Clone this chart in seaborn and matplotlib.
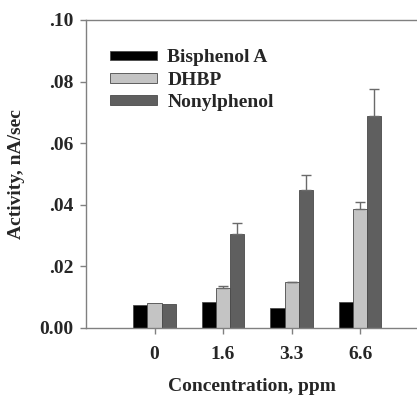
import pandas as pd
import numpy as np
import matplotlib
matplotlib.use("Agg")
import matplotlib.pyplot as plt
import seaborn as sns

## Data
concentrations = ["0", "1.6", "3.3", "6.6"]
compounds = ["Bisphenol A", "DHBP", "Nonylphenol"]
bisphenol = [0.0075, 0.0083, 0.0064, 0.0083]
dhbp = [0.0082, 0.0129, 0.0149, 0.0386]
nonylphenol = [0.0078, 0.0304, 0.0447, 0.0687]
bisphenol_err = [0.0, 0.0, 0.0, 0.0]
dhbp_err = [0.0, 0.0008, 0.0001, 0.0022]
nonylphenol_err = [0.0, 0.0036, 0.0051, 0.0088]

df = pd.DataFrame({
    "Concentration": concentrations * 3,
    "Compound": np.repeat(compounds, 4),
    "Activity": bisphenol + dhbp + nonylphenol,
})
errors = [bisphenol_err, dhbp_err, nonylphenol_err]

## Style
sns.set_style("ticks")
plt.rcParams["font.family"] = ["Liberation Serif", "DejaVu Serif"]
plt.rcParams["font.weight"] = "bold"

colors = ["#000000", "#c4c4c4", "#5f5f5f"]

fig = plt.figure(figsize=(4.17, 3.95), dpi=100)
ax = fig.add_axes([86 / 417, 1 - 328 / 395, 1 - 86 / 417, 308 / 395])

sns.barplot(data=df, x="Concentration", y="Activity", hue="Compound",
            order=concentrations, hue_order=compounds, palette=colors,
            width=0.62, edgecolor="#4a4a4a", linewidth=0.6, saturation=1,
            ax=ax)

## Upward-only error bars with caps
for cont, err in zip(ax.containers, errors):
    for bar, e in zip(cont, err):
        if e <= 0:
            continue
        xc = bar.get_x() + bar.get_width() / 2
        top = bar.get_height()
        ax.errorbar(xc, top, yerr=[[0], [e]], fmt="none", ecolor="#6a6a6a",
                    elinewidth=1.0, capsize=3.3, capthick=1.0, zorder=1)

ax.set_ylim(0, 0.10)
ax.set_xlim(-1.0, 3.83)
yt = [0, 0.02, 0.04, 0.06, 0.08, 0.10]
ax.set_yticks(yt)
ax.set_yticklabels(["0.00", ".02", ".04", ".06", ".08", ".10"])

ax.tick_params(axis="both", labelsize=14, direction="out", color="#808080",
               width=1.0, length=4)
ax.tick_params(axis="x", pad=9)
ax.tick_params(axis="y", pad=5)
for lab in ax.get_xticklabels() + ax.get_yticklabels():
    lab.set_fontweight("bold")

for s in ["left", "bottom", "top"]:
    ax.spines[s].set_color("#808080")
    ax.spines[s].set_linewidth(1.0)
ax.spines["right"].set_visible(False)

ax.set_xlabel("Concentration, ppm", fontsize=14, fontweight="bold", labelpad=11)
ax.set_ylabel("Activity, nA/sec", fontsize=14, fontweight="bold", labelpad=10)

ax.legend(loc="upper left", bbox_to_anchor=(0.0725, 0.905), frameon=False,
          borderpad=0, borderaxespad=0, handlelength=2.4, handleheight=0.38,
          labelspacing=0.28, handletextpad=0.55,
          prop={"size": 14, "weight": "bold"})

fig.savefig("out.png", dpi=100)
